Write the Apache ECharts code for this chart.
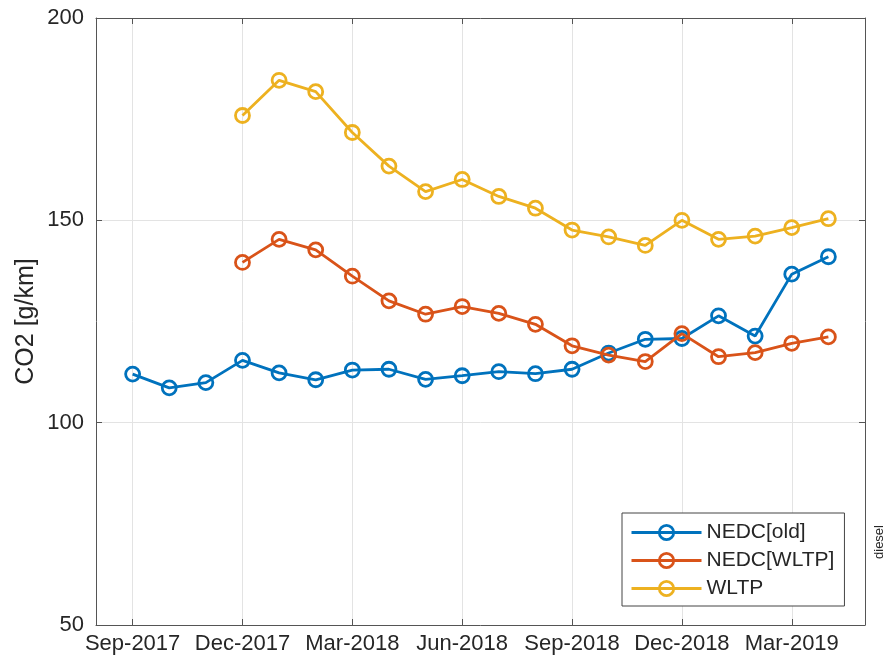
<!DOCTYPE html>
<html>
<head>
<meta charset="utf-8">
<script src="https://cdn.jsdelivr.net/npm/echarts@6/dist/echarts.min.js"></script>
<style>
  html, body { margin: 0; padding: 0; background: #fff; }
  #chart { width: 889px; height: 666px; }
</style>
</head>
<body>
<div id="chart"></div>
<script>
// Monthly axis, Aug-2017 .. May-2019
const months = [
  'Aug-2017', 'Sep-2017', 'Oct-2017', 'Nov-2017', 'Dec-2017',
  'Jan-2018', 'Feb-2018', 'Mar-2018', 'Apr-2018', 'May-2018', 'Jun-2018',
  'Jul-2018', 'Aug-2018', 'Sep-2018', 'Oct-2018', 'Nov-2018', 'Dec-2018',
  'Jan-2019', 'Feb-2019', 'Mar-2019', 'Apr-2019', 'May-2019'
];

// Average CO2 emissions [g/km], diesel
const nedcOld = [
  null, 112.0, 108.6, 109.9, 115.4, 112.3, 110.6, 113.0, 113.2, 110.7, 111.6,
  112.6, 112.1, 113.2, 117.2, 120.6, 120.8, 126.4, 121.4, 136.7, 141.0, null
];
const nedcWltp = [
  null, null, null, null, 139.6, 145.3, 142.7, 136.2, 130.1, 126.8, 128.7,
  127.0, 124.3, 119.0, 116.7, 115.1, 122.0, 116.3, 117.3, 119.6, 121.2, null
];
const wltp = [
  null, null, null, null, 175.9, 184.6, 181.8, 171.7, 163.4, 157.1, 160.1,
  155.9, 153.0, 147.6, 145.9, 143.8, 150.0, 145.3, 146.1, 148.2, 150.4, null
];

const seriesNames = ['NEDC[old]', 'NEDC[WLTP]', 'WLTP'];
const seriesColors = ['#0072BD', '#D95319', '#EDB120'];
const seriesData = [nedcOld, nedcWltp, wltp];

const FONT = '"Liberation Sans", Arial, Helvetica, sans-serif';
const TEXT = '#262626';
const AXIS = '#555555';
const GRID = '#e3e3e3';

// quarterly ticks: Sep, Dec, Mar, Jun
const quarterTick = (idx) => idx % 3 === 1;

const chart = echarts.init(document.getElementById('chart'), null, { renderer: 'canvas' });

chart.setOption({
  animation: false,
  backgroundColor: '#fff',
  textStyle: { fontFamily: FONT },
  grid: { left: 96, right: 24, top: 18, bottom: 41, containLabel: false },
  legend: {
    data: seriesNames,
    orient: 'vertical',
    left: 622,
    top: 513,
    itemWidth: 70,
    itemHeight: 18,
    itemGap: 7,
    padding: [9, 10, 7, 8],
    borderColor: '#444',
    borderWidth: 1,
    backgroundColor: '#fff',
    lineStyle: { width: 3 },
    itemStyle: { borderWidth: 2.8 },
    textStyle: { fontFamily: FONT, fontSize: 21, color: TEXT, padding: [0, 0, 0, 0] },
    z: 10
  },
  xAxis: [
    {
      type: 'category',
      data: months,
      boundaryGap: false,
      position: 'bottom',
      axisLine: { show: true, onZero: false, lineStyle: { color: AXIS, width: 1 } },
      axisTick: { show: true, inside: true, length: 6, interval: quarterTick, lineStyle: { color: AXIS } },
      axisLabel: { interval: quarterTick, fontFamily: FONT, fontSize: 22, color: TEXT, margin: 8 },
      splitLine: { show: true, interval: quarterTick, lineStyle: { color: GRID, width: 1 } }
    },
    {
      type: 'category',
      data: months,
      boundaryGap: false,
      position: 'top',
      axisLine: { show: true, onZero: false, lineStyle: { color: AXIS, width: 1 } },
      axisTick: { show: true, inside: true, length: 6, interval: quarterTick, lineStyle: { color: AXIS } },
      axisLabel: { show: false },
      splitLine: { show: false }
    }
  ],
  yAxis: [
    {
      type: 'value',
      min: 50,
      max: 200,
      interval: 50,
      position: 'left',
      name: 'CO2 [g/km]',
      nameLocation: 'middle',
      nameGap: 57,
      nameMoveOverlap: false,
      nameTextStyle: { fontFamily: FONT, fontSize: 25, color: TEXT },
      axisLine: { show: true, lineStyle: { color: AXIS, width: 1 } },
      axisTick: { show: true, inside: true, length: 6, lineStyle: { color: AXIS } },
      axisLabel: { fontFamily: FONT, fontSize: 22, color: TEXT, margin: 12 },
      splitLine: { show: true, lineStyle: { color: GRID, width: 1 } }
    },
    {
      type: 'value',
      min: 50,
      max: 200,
      interval: 50,
      position: 'right',
      axisLine: { show: true, lineStyle: { color: AXIS, width: 1 } },
      axisTick: { show: true, inside: true, length: 6, lineStyle: { color: AXIS } },
      axisLabel: { show: false },
      splitLine: { show: false }
    }
  ],
  series: seriesNames.map((name, i) => ({
    name: name,
    type: 'line',
    data: seriesData[i],
    xAxisIndex: 0,
    yAxisIndex: 0,
    connectNulls: false,
    symbol: 'circle',
    symbolSize: 14,
    showAllSymbol: true,
    lineStyle: { color: seriesColors[i], width: 2.8 },
    itemStyle: { color: 'rgba(255,255,255,0)', borderColor: seriesColors[i], borderWidth: 2.8 },
    emphasis: { disabled: true },
    z: 2 + i
  })),
  graphic: [
    {
      type: 'text',
      x: 879,
      y: 542,
      rotation: Math.PI / 2,
      style: {
        text: 'diesel',
        fontFamily: FONT,
        fontSize: 13,
        fill: TEXT,
        align: 'center',
        verticalAlign: 'middle'
      }
    }
  ]
});
</script>
</body>
</html>
